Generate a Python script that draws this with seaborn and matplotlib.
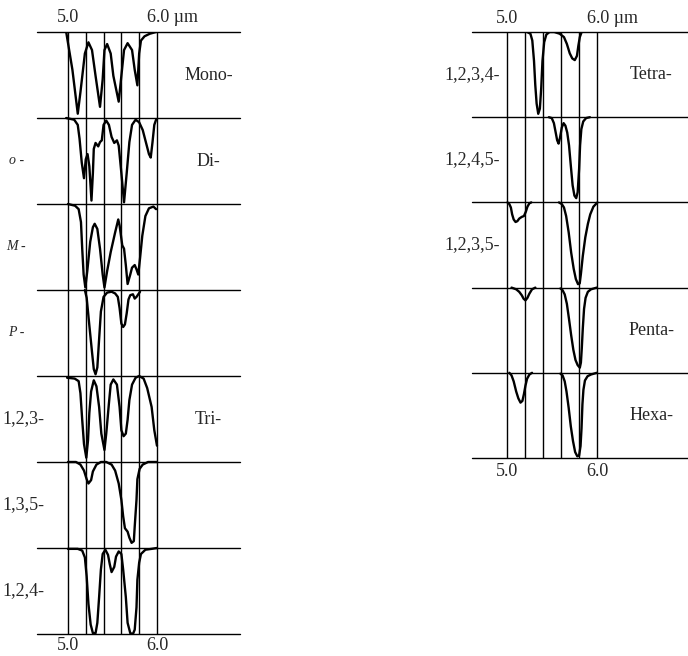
import matplotlib
matplotlib.use('Agg')
import matplotlib.pyplot as plt
import seaborn as sns

sns.set_style('white')
plt.rcParams['font.family'] = ['Liberation Serif', 'DejaVu Serif']

# ---------------------------------------------
# Data: overtone patterns, x in um, depth = fraction of row height
# ---------------------------------------------
grid_um = [5.0, 5.2, 5.4, 5.6, 5.8, 6.0]

mono_x = [4.98, 5.05, 5.11, 5.14, 5.19, 5.23, 5.27, 5.31, 5.36, 5.39, 5.41, 5.44, 5.48,
          5.51, 5.57, 5.60, 5.63, 5.67, 5.72, 5.75, 5.78, 5.80, 5.82, 5.86, 5.92, 5.99]
mono_d = [0.0, 0.44, 0.95, 0.70, 0.25, 0.12, 0.21, 0.51, 0.87, 0.55, 0.21, 0.14, 0.25,
          0.51, 0.81, 0.51, 0.21, 0.13, 0.21, 0.44, 0.62, 0.25, 0.10, 0.05, 0.02, 0.0]

ortho_x = [4.98, 5.07, 5.11, 5.13, 5.155, 5.18, 5.20, 5.22, 5.24, 5.264, 5.28, 5.29, 5.31,
           5.34, 5.36, 5.38, 5.40, 5.43, 5.46, 5.49, 5.52, 5.55, 5.57, 5.60, 5.63, 5.66,
           5.69, 5.72, 5.76, 5.80, 5.84, 5.88, 5.91, 5.93, 5.95, 5.97, 5.99]
ortho_d = [0.0, 0.02, 0.08, 0.24, 0.52, 0.70, 0.48, 0.42, 0.56, 0.96, 0.64, 0.36, 0.29,
           0.33, 0.28, 0.26, 0.08, 0.03, 0.08, 0.22, 0.29, 0.26, 0.32, 0.64, 0.98, 0.64,
           0.28, 0.08, 0.02, 0.05, 0.14, 0.30, 0.42, 0.46, 0.28, 0.08, 0.02]

meta_x = [5.00, 5.08, 5.12, 5.146, 5.16, 5.176, 5.195, 5.217, 5.25, 5.28, 5.30, 5.33, 5.36,
          5.39, 5.41, 5.44, 5.48, 5.53, 5.565, 5.58, 5.61, 5.63, 5.65, 5.67, 5.70, 5.72,
          5.75, 5.77, 5.79, 5.81, 5.835, 5.87, 5.91, 5.96, 5.99]
meta_d = [0.0, 0.02, 0.06, 0.21, 0.52, 0.82, 0.97, 0.78, 0.44, 0.27, 0.23, 0.29, 0.52,
          0.82, 0.97, 0.78, 0.56, 0.33, 0.18, 0.25, 0.48, 0.52, 0.71, 0.93, 0.82, 0.74,
          0.71, 0.76, 0.82, 0.63, 0.37, 0.14, 0.05, 0.03, 0.06]

para_x = [5.19, 5.21, 5.24, 5.27, 5.29, 5.31, 5.33, 5.35, 5.37, 5.40, 5.44, 5.49, 5.53,
          5.56, 5.58, 5.60, 5.62, 5.64, 5.66, 5.68, 5.70, 5.73, 5.75, 5.77, 5.79, 5.81]
para_d = [0.0, 0.09, 0.41, 0.72, 0.92, 0.98, 0.90, 0.57, 0.25, 0.08, 0.03, 0.02, 0.04,
          0.08, 0.21, 0.39, 0.43, 0.40, 0.27, 0.11, 0.06, 0.05, 0.10, 0.08, 0.05, 0.02]

tri123_x = [4.99, 5.075, 5.12, 5.14, 5.16, 5.18, 5.206, 5.225, 5.24, 5.26, 5.29, 5.32,
            5.35, 5.375, 5.41, 5.43, 5.46, 5.48, 5.51, 5.55, 5.58, 5.60, 5.625, 5.65,
            5.67, 5.69, 5.72, 5.76, 5.80, 5.85, 5.89, 5.94, 5.97, 6.00]
tri123_d = [0.02, 0.03, 0.06, 0.20, 0.51, 0.79, 0.95, 0.75, 0.43, 0.18, 0.05, 0.12,
            0.36, 0.67, 0.86, 0.67, 0.32, 0.10, 0.04, 0.10, 0.36, 0.63, 0.70, 0.67,
            0.51, 0.28, 0.10, 0.02, 0.0, 0.03, 0.14, 0.36, 0.63, 0.81]

tri135_x = [5.00, 5.09, 5.14, 5.18, 5.21, 5.23, 5.26, 5.28, 5.32, 5.37, 5.43, 5.49, 5.53,
            5.57, 5.60, 5.62, 5.64, 5.67, 5.69, 5.715, 5.74, 5.75, 5.77, 5.78, 5.805,
            5.84, 5.90, 6.00]
tri135_d = [0.0, 0.0, 0.03, 0.10, 0.20, 0.25, 0.21, 0.11, 0.03, 0.0, 0.0, 0.03, 0.10,
            0.25, 0.44, 0.63, 0.77, 0.81, 0.88, 0.94, 0.92, 0.75, 0.44, 0.20, 0.08,
            0.03, 0.0, 0.0]

tri124_x = [5.00, 5.11, 5.16, 5.19, 5.21, 5.23, 5.255, 5.28, 5.31, 5.33, 5.35, 5.37, 5.39,
            5.42, 5.45, 5.47, 5.49, 5.52, 5.54, 5.57, 5.60, 5.62, 5.65, 5.67, 5.70, 5.73,
            5.75, 5.77, 5.78, 5.80, 5.82, 5.87, 5.94, 6.00]
tri124_d = [0.01, 0.01, 0.03, 0.11, 0.33, 0.65, 0.89, 0.99, 0.99, 0.87, 0.57, 0.25, 0.07,
            0.02, 0.08, 0.19, 0.28, 0.22, 0.10, 0.04, 0.07, 0.25, 0.57, 0.87, 0.99, 1.0,
            0.95, 0.69, 0.37, 0.17, 0.07, 0.02, 0.01, 0.0]

tet1234_x = [5.218, 5.255, 5.276, 5.295, 5.309, 5.324, 5.342, 5.36, 5.375, 5.389, 5.408,
             5.432, 5.468, 5.52, 5.58, 5.628, 5.66, 5.692, 5.72, 5.748, 5.772, 5.788,
             5.804, 5.821]
tet1234_d = [0.0, 0.02, 0.10, 0.34, 0.62, 0.84, 0.96, 0.90, 0.66, 0.34, 0.12,
             0.03, 0.0, 0.0, 0.02, 0.06, 0.14, 0.25, 0.31, 0.33, 0.28, 0.16,
             0.06, 0.01]

tet1245_x = [5.46, 5.492, 5.516, 5.536, 5.552, 5.568, 5.584, 5.604, 5.624, 5.644, 5.664,
             5.684, 5.704, 5.724, 5.744, 5.764, 5.78, 5.796, 5.807, 5.821, 5.842, 5.874,
             5.916]
tet1245_d = [0.0, 0.01, 0.07, 0.18, 0.27, 0.31, 0.24, 0.12, 0.07, 0.10, 0.18,
             0.33, 0.57, 0.80, 0.92, 0.95, 0.88, 0.61, 0.33, 0.14, 0.05, 0.01,
             0.0]

tet1235_xa = [5.0, 5.021, 5.038, 5.052, 5.069, 5.09, 5.11, 5.131, 5.159, 5.183, 5.204,
              5.222, 5.244, 5.265]
tet1235_da = [0.0, 0.02, 0.06, 0.14, 0.20, 0.23, 0.22, 0.19, 0.17, 0.16, 0.11,
              0.05, 0.01, 0.0]
tet1235_xb = [5.572, 5.604, 5.628, 5.652, 5.68, 5.708, 5.736, 5.76, 5.784, 5.803, 5.816,
              5.837, 5.865, 5.894, 5.92, 5.955, 6.0]
tet1235_db = [0.0, 0.02, 0.06, 0.16, 0.35, 0.59, 0.78, 0.90, 0.96, 0.95, 0.84,
              0.63, 0.41, 0.25, 0.14, 0.05, 0.0]

penta_xa = [5.045, 5.097, 5.131, 5.159, 5.179, 5.2, 5.222, 5.244, 5.273, 5.31]
penta_da = [0.0, 0.02, 0.05, 0.09, 0.13, 0.15, 0.12, 0.07, 0.02, 0.0]
penta_xb = [5.588, 5.612, 5.636, 5.66, 5.684, 5.708, 5.732, 5.756, 5.78, 5.804, 5.816,
            5.826, 5.837, 5.851, 5.868, 5.893, 5.928, 5.993]
penta_db = [0.01, 0.03, 0.08, 0.19, 0.37, 0.56, 0.73, 0.85, 0.91, 0.94, 0.88,
            0.71, 0.48, 0.25, 0.12, 0.05, 0.02, 0.0]

hexa_xa = [5.021, 5.045, 5.069, 5.097, 5.121, 5.145, 5.166, 5.183, 5.2, 5.218, 5.244, 5.273]
hexa_da = [0.0, 0.03, 0.10, 0.22, 0.30, 0.35, 0.33, 0.25, 0.15, 0.07, 0.02, 0.0]
hexa_xb = [5.588, 5.612, 5.636, 5.656, 5.68, 5.704, 5.728, 5.752, 5.776, 5.796, 5.812,
           5.823, 5.833, 5.844, 5.861, 5.89, 5.928, 5.993]
hexa_db = [0.01, 0.03, 0.10, 0.22, 0.41, 0.63, 0.80, 0.93, 0.98, 0.97, 0.86,
           0.65, 0.37, 0.20, 0.09, 0.04, 0.02, 0.0]

left_row_labels = ["", "o -", "M -", "P -", "1,2,3-", "1,3,5-", "1,2,4-"]
left_group_labels = ["Mono-", "Di-", "", "", "Tri-", "", ""]
right_row_labels = ["1,2,3,4-", "1,2,4,5-", "1,2,3,5-", "", ""]
right_group_labels = ["Tetra-", "", "", "Penta-", "Hexa-"]

left_traces = [
    [(mono_x, mono_d)],
    [(ortho_x, ortho_d)],
    [(meta_x, meta_d)],
    [(para_x, para_d)],
    [(tri123_x, tri123_d)],
    [(tri135_x, tri135_d)],
    [(tri124_x, tri124_d)],
]
right_traces = [
    [(tet1234_x, tet1234_d)],
    [(tet1245_x, tet1245_d)],
    [(tet1235_xa, tet1235_da), (tet1235_xb, tet1235_db)],
    [(penta_xa, penta_da), (penta_xb, penta_db)],
    [(hexa_xa, hexa_da), (hexa_xb, hexa_db)],
]

FS = 13


def draw_panel(ax, traces, row_labels, group_labels, xlim, row_lab_x, row_lab_ha,
               group_x, top_pad, bot_pad):
    n = len(traces)
    ax.set_xlim(*xlim)
    ax.set_ylim(n, 0)
    ax.axis('off')

    # frame: row separators + wavelength grid
    for k in range(n + 1):
        ax.axhline(k, color='black', lw=1.0, clip_on=False)
    ax.vlines(grid_um, 0, n, color='black', lw=1.0, clip_on=False)

    # spectra
    for i, row in enumerate(traces):
        for xs, ds in row:
            ys = [i + d for d in ds]
            sns.lineplot(x=xs, y=ys, ax=ax, color='black', lw=1.7,
                         sort=False, estimator=None)

    # labels
    for i, lab in enumerate(row_labels):
        if lab:
            italic = lab[0].isalpha()
            ax.text(row_lab_x[1] if italic else row_lab_x[0], i + 0.5, lab,
                    ha=row_lab_ha[1] if italic else row_lab_ha[0], va='center',
                    fontsize=FS - 3 if italic else FS,
                    style='italic' if italic else 'normal')
    for i, lab in enumerate(group_labels):
        if lab:
            ax.text(group_x, i + 0.5, lab, ha='center', va='center', fontsize=FS)

    ax.text(5.0, -top_pad, "5.0", ha='center', va='center', fontsize=FS)
    ax.text(5.885, -top_pad, "6.0 \u00b5m", ha='left', va='center', fontsize=FS)
    ax.text(5.0, n + bot_pad, "5.0", ha='center', va='center', fontsize=FS)
    ax.text(6.0, n + bot_pad, "6.0", ha='center', va='center', fontsize=FS)


fig = plt.figure(figsize=(6.88, 6.56), dpi=100)
W, H = 688, 656

ax_l = fig.add_axes([37 / W, (H - 634) / H, 203 / W, 602 / H])
draw_panel(ax_l, left_traces, left_row_labels, left_group_labels,
           (4.652, 6.933), (4.262, 4.42), ('left', 'center'), 6.58, 0.17, 0.13)

ax_r = fig.add_axes([472 / W, (H - 458) / H, 216 / W, 426 / H])
draw_panel(ax_r, right_traces, right_row_labels, right_group_labels,
           (4.606, 7.006), (4.92, 4.92), ('right', 'right'), 6.6, 0.16, 0.16)

fig.savefig("out.png", dpi=100)
